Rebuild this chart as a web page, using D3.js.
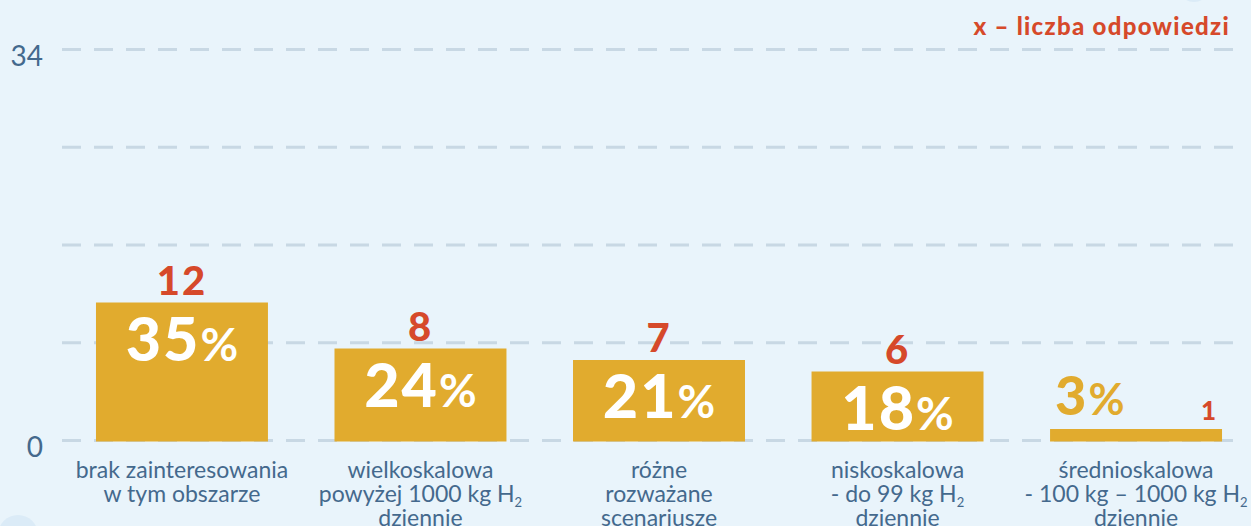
<!DOCTYPE html>
<html>
<head>
<meta charset="utf-8">
<script src="https://cdn.jsdelivr.net/npm/d3@7"></script>
<style>
  html, body { margin: 0; padding: 0; background: #e9f4fb; }
  svg { display: block; }
</style>
</head>
<body>
<div id="chart"></div>
<script>
// data
const categories = [
  ['brak zainteresowania', 'w tym obszarze'],
  ['wielkoskalowa', 'powyżej 1000 kg H|2', 'dziennie'],
  ['różne', 'rozważane', 'scenariusze'],
  ['niskoskalowa', '- do 99 kg H|2', 'dziennie'],
  ['średnioskalowa', '- 100 kg – 1000 kg H|2', 'dziennie']
]
const counts = [12, 8, 7, 6, 1]
const percents = [35, 24, 21, 18, 3]
const yTicks = [0, 34]
const yMax = 34
const legendText = 'x – liczba odpowiedzi'

const width = 1251
const height = 526
const blue = '#44698d'
const red = '#d6492a'
const gold = '#e1ab2e'
const font = 'Lato, "Open Sans", sans-serif'

const svg = d3.select('#chart')
  .append('svg')
  .attr('width', width)
  .attr('height', height)

svg.append('rect').attr('width', width).attr('height', height).attr('fill', '#e9f4fb')

// decorative circles at the edges
svg.append('circle').attr('cx', 18).attr('cy', 535).attr('r', 20).attr('fill', '#dbebf7')
svg.append('circle').attr('cx', 1194).attr('cy', -14).attr('r', 16).attr('fill', '#dbebf7')

const x = d3.scaleBand()
  .domain(d3.range(counts.length))
  .range([62.7, 1255.3])
  .paddingInner(0.279)
  .paddingOuter(0.1395)

const y = d3.scaleLinear().domain([0, yMax]).range([440.5, 49.5])

// dashed grid
svg.append('g')
  .selectAll('line')
  .data(d3.range(5).map(i => i * yMax / 4))
  .enter()
  .append('line')
  .attr('x1', 62)
  .attr('x2', 1244)
  .attr('y1', d => y(d))
  .attr('y2', d => y(d))
  .attr('stroke', '#c8d8e4')
  .attr('stroke-width', 3)
  .attr('stroke-dasharray', '19 13')

// y axis labels
const yAxis = d3.axisLeft(y).tickValues(yTicks).tickSize(0).tickPadding(0)
const ga = svg.append('g').attr('transform', 'translate(43,7)').call(yAxis)
ga.select('.domain').remove()
ga.selectAll('text')
  .attr('font-family', font)
  .attr('font-size', 28)
  .attr('fill', blue)

// bars
svg.append('g')
  .selectAll('rect')
  .data(counts)
  .enter()
  .append('rect')
  .attr('x', (d, i) => x(i))
  .attr('y', d => y(d))
  .attr('width', x.bandwidth())
  .attr('height', d => y(0) - y(d) + 1)
  .attr('fill', gold)

const big = counts.map(d => y(0) - y(d) > 40)

// percentage labels (inside tall bars, above short ones)
const pct = svg.append('g')
  .selectAll('text')
  .data(percents)
  .enter()
  .append('text')
  .attr('x', (d, i) => big[i] ? x(i) + x.bandwidth() / 2 : x(i) + 5)
  .attr('y', (d, i) => big[i] ? y(counts[i]) + 58 : y(counts[i]) - 14)
  .attr('text-anchor', (d, i) => big[i] ? 'middle' : 'start')
  .attr('font-family', font)
  .attr('fill', (d, i) => big[i] ? '#ffffff' : gold)
pct.append('tspan')
  .attr('font-size', (d, i) => big[i] ? 61 : 54)
  .attr('font-weight', 900)
  .attr('letter-spacing', 2)
  .text(d => d)
pct.append('tspan')
  .attr('font-size', (d, i) => big[i] ? 46 : 44)
  .attr('font-weight', 700)
  .text('%')

// count labels
svg.append('g')
  .selectAll('text')
  .data(counts)
  .enter()
  .append('text')
  .attr('x', (d, i) => big[i] ? x(i) + x.bandwidth() / 2 : x(i) + x.bandwidth() - 4)
  .attr('y', (d, i) => big[i] ? y(d) - 8 : y(d) - 9)
  .attr('text-anchor', (d, i) => big[i] ? 'middle' : 'end')
  .attr('font-family', font)
  .attr('font-weight', 900)
  .attr('font-size', (d, i) => big[i] ? 40 : 26)
  .attr('letter-spacing', 2)
  .attr('fill', red)
  .text(d => d)

// category labels
categories.forEach((lines, i) => {
  const cx = x(i) + x.bandwidth() / 2
  lines.forEach((line, j) => {
    const parts = line.split('|')
    const t = svg.append('text')
      .attr('x', cx)
      .attr('y', 478 + j * 24)
      .attr('text-anchor', 'middle')
      .attr('font-family', font)
      .attr('font-size', 23)
      .attr('fill', blue)
    t.append('tspan').text(parts[0])
    if (parts[1]) {
      t.append('tspan').attr('font-size', 13).attr('dy', 5).text(parts[1])
    }
  })
})

// legend note
svg.append('text')
  .attr('x', 1230)
  .attr('y', 35)
  .attr('text-anchor', 'end')
  .attr('font-family', font)
  .attr('font-weight', 900)
  .attr('font-size', 24)
  .attr('letter-spacing', 1.3)
  .attr('fill', red)
  .text(legendText)
</script>
</body>
</html>
